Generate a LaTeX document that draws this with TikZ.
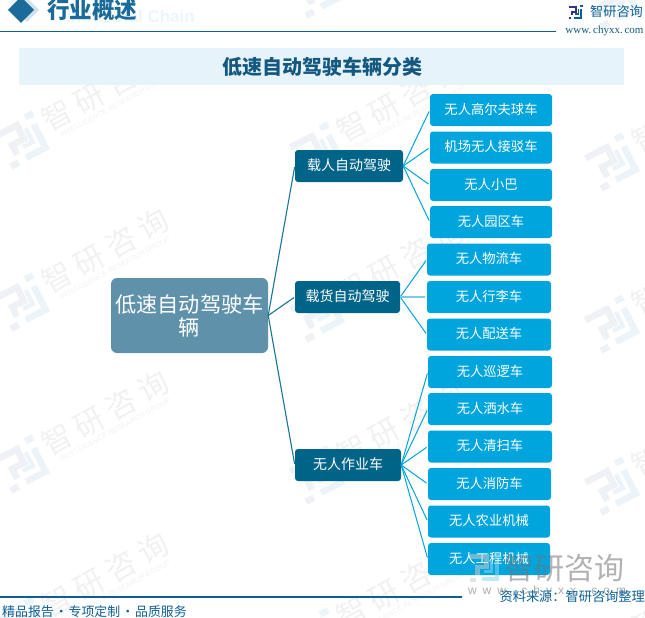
\documentclass[tikz,border=0pt]{standalone}
\usepackage{fontspec}
\setmainfont{Noto Sans CJK SC}
\newfontfamily\wmfont[LetterSpace=22]{Noto Sans CJK SC}
\newfontfamily\latinsans{Liberation Sans}
\newfontfamily\latinserif{Liberation Serif}
\definecolor{rootcol}{HTML}{5F92AA}
\definecolor{buscol}{HTML}{006489}
\definecolor{leafcol}{HTML}{00A5DE}
\definecolor{leaflight}{HTML}{7CC9E9}
\definecolor{stripcol}{HTML}{E6F3FB}
\definecolor{inkcol}{HTML}{14587F}
\definecolor{headcol}{HTML}{1A6A9A}
\definecolor{rulecol}{HTML}{0B5F96}
\definecolor{wmgray}{HTML}{F1F1F2}
\definecolor{wmlogo}{HTML}{EEF1F5}
\definecolor{wmblue}{HTML}{ECF4FA}
\newcommand{\fsz}[1]{\fontsize{#1}{#1}\selectfont}
\newcommand{\zhlogo}[6]{
  \begin{scope}[shift={(#1,#2)},rotate=#3,scale=#4,line cap=butt,line join=miter]
    \draw[#5,line width=#4*3pt] (-10,-7) -- (1,-7) -- (1,0) -- (-5,0) -- (-5,5);
    \fill[#5] (-10,7) rectangle (-6,10);
    \fill[#6] (6,-10) rectangle (10,-7);
    \draw[#6,line width=#4*3pt] (8,-4) -- (8,8) -- (-2,8);
    \draw[#6,line width=#4*2pt] (4,-4) -- (4,3) -- (-1,3);
  \end{scope}
}
\begin{document}
\begin{tikzpicture}
      [x=1pt,y=-1pt,
      rootbox/.style={fill=rootcol,rounded corners=6pt,text=white,align=center,inner sep=0pt,
        minimum width=157pt,minimum height=75pt,font=\fsz{21.2}},
      busbox/.style={fill=buscol,rounded corners=3pt,text=white,inner sep=0pt,
        text height=10.5pt,text depth=2.5pt,minimum height=32pt,font=\fsz{14}},
      leafbox/.style={fill=leafcol,rounded corners=3pt,text=white,inner sep=0pt,
        text height=10pt,text depth=2pt,minimum height=32pt,font=\fsz{13.3}},
      busline/.style={draw=buscol!90!white,line width=1.1pt,shorten >=1pt},
      leafline/.style={draw=leafcol,line width=1pt,shorten >=1.5pt},
      wmtext/.style={text=wmgray,font=\wmfont\fsz{30},inner sep=0pt},
      wmsub/.style={text=wmgray,font=\latinsans\fsz{7.3},inner sep=0pt}]
      \useasboundingbox (0,0) rectangle (645,618);
      \foreach \wx/\wy in {22/140,317/151,612/162}
      \foreach \wk in {-1,0,1,2,3} {
        \zhlogo{\wx}{\wy+162*\wk}{27}{2.2}{wmlogo}{wmblue}
      }
      \foreach \wx/\wy in {22/140,317/151,612/162}
      \foreach \wk in {0,1,2,3} {
        \node[wmtext,rotate=29] (wmname\wx\wk) at (\wx+83,\wy+162*\wk-51) {智研咨询};
        \node[wmsub,rotate=28.5] (wmsub\wx\wk) at (\wx+93,\wy+162*\wk-34) {INTELLIGENCE RESEARCH GROUP};
      }

      \node[text=stripcol!80!white,font=\latinsans\bfseries\fsz{17},inner sep=0pt,anchor=east] (chain) at (195,16) {Industrial Chain};
      \fill[headcol!20!white] (27,-2) -- (39,10) -- (27,22) -- (15,10) -- cycle;
      \fill[headcol] (21,-3) -- (34,10) -- (21,23) -- (8,10) -- cycle;
      \node[text=headcol,font=\bfseries\fsz{22.5},inner sep=0pt] (headline) at (92,10) {行业概述};
      \coordinate (headleft) at (0,32);
      \coordinate (headright) at (556,32);
      \draw[rulecol,line width=1pt] (headleft) -- (headright);
      \zhlogo{575.5}{12}{0}{0.7}{blue!40!black!80!white}{rulecol}
      \node[text=rulecol,font=\fsz{13.2},inner sep=0pt] (brandname) at (616.5,12) {智研咨询};
      \node[text=inkcol,font=\latinserif\fsz{11},inner sep=0pt] (brandweb) at (604.5,31) {www.\,chyxx.\,com};

      \node[fill=stripcol,minimum width=605pt,minimum height=37pt,inner sep=0pt] (titlestrip) at (321.5,66.5) {};
      \node[text=inkcol,font=\bfseries\fsz{20},inner sep=0pt] (titletext) at (322,67) {低速自动驾驶车辆分类};

      \node[rootbox] (lowspeed) at (189.5,315.5) {低速自动驾驶车\\[2pt]辆};

      \node[busbox,minimum width=108pt] (passenger) at (349,166) {载人自动驾驶};
      \node[busbox,minimum width=105pt] (cargo) at (347.5,297) {载货自动驾驶};
      \node[busbox,minimum width=106pt] (working) at (348,465) {无人作业车};

      \node[leafbox,minimum width=122pt] (golf) at (491,110) {无人高尔夫球车};
      \node[leafbox,minimum width=122pt] (airport) at (491,147.5) {机场无人接驳车};
      \node[leafbox,minimum width=122pt] (minibus) at (491,185) {无人小巴};
      \node[leafbox,minimum width=122pt] (park) at (491,222) {无人园区车};

      \node[leafbox,minimum width=124pt] (logistics) at (489,259.5) {无人物流车};
      \node[leafbox,minimum width=124pt] (luggage) at (489,297) {无人行李车};
      \node[leafbox,minimum width=124pt] (delivery) at (489,334.5) {无人配送车};

      \node[leafbox,minimum width=124pt] (patrol) at (490,372) {无人巡逻车};
      \node[leafbox,minimum width=124pt] (sprinkler) at (490,409) {无人洒水车};
      \node[leafbox,minimum width=124pt] (sweeper) at (490,446.5) {无人清扫车};
      \node[leafbox,minimum width=123pt] (firefight) at (489.5,484) {无人消防车};
      \node[leafbox,minimum width=122pt] (farming) at (489,521.5) {无人农业机械};
      \node[leafbox,minimum width=122pt] (building) at (489,559) {无人工程机械};

      \foreach \busname in {passenger,cargo,working}
        \draw[busline] (lowspeed.east) -- (\busname.west);
      \foreach \leafname in {golf,airport,minibus,park}
        \draw[leafline] (passenger.east) -- (\leafname.west);
      \foreach \leafname in {logistics,delivery}
        \draw[leafline] (cargo.east) -- (\leafname.west);
      \draw[leafline,draw=leaflight,line width=1.4pt] (cargo.east) -- (luggage.west);
      \foreach \leafname in {patrol,sprinkler,sweeper,firefight,farming,building}
        \draw[leafline] (working.east) -- (\leafname.west);

      \begin{scope}[opacity=0.55]
        \zhlogo{485}{567}{0}{1.5}{black!20}{leafcol!45!white}
        \node[text=black!55,font=\fsz{30},inner sep=0pt] (bigname) at (564,568) {智研咨询};
        \node[text=black!60,font=\latinsans\fsz{12},inner sep=0pt] (bigweb) at (547,591) {w\,\,\,w\,\,\,w\,\,\,.\,\,\,c\,\,\,h\,\,\,y\,\,\,x\,\,\,x\,\,\,.\,\,\,c\,\,\,o\,\,\,m};
      \end{scope}

      \fill[left color=rulecol,middle color=rootcol!70!white,right color=rulecol] (0,596.4) rectangle (462,597.8);
      \node[text=rulecol,font=\fsz{12.9},inner sep=0pt,anchor=west] (slogan) at (2,612) {精品报告\hspace{1pt}·\hspace{1pt}专项定制\hspace{1pt}·\hspace{1pt}品质服务};
      \node[text=rulecol,font=\fsz{13.2},inner sep=0pt,anchor=east] (source) at (645,597) {资料来源：智研咨询整理};
\end{tikzpicture}
\end{document}
